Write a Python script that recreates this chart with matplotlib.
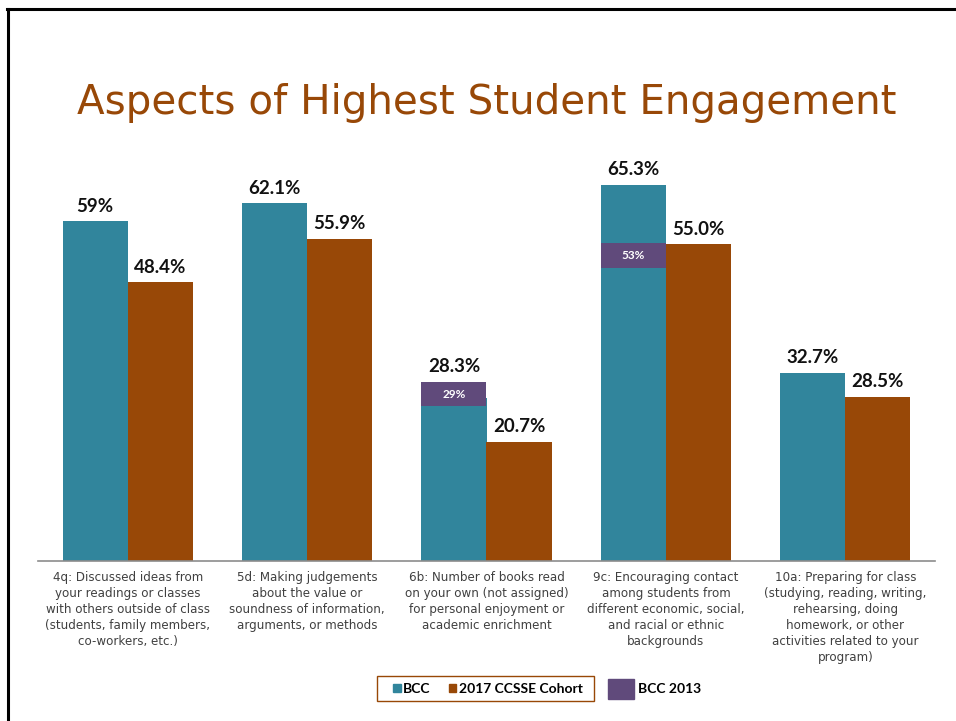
import matplotlib.pyplot as plt
from matplotlib.patches import Patch, Rectangle
from matplotlib.lines import Line2D
import numpy as np

# survey items (x axis labels)
categories = [
    "4q: Discussed ideas from\nyour readings or classes\nwith others outside of class\n(students, family members,\nco-workers, etc.)",
    "5d: Making judgements\nabout the value or\nsoundness of information,\narguments, or methods",
    "6b: Number of books read\non your own (not assigned)\nfor personal enjoyment or\nacademic enrichment",
    "9c: Encouraging contact\namong students from\ndifferent economic, social,\nand racial or ethnic\nbackgrounds",
    "10a: Preparing for class\n(studying, reading, writing,\nrehearsing, doing\nhomework, or other\nactivities related to your\nprogram)",
]
bcc = [59, 62.1, 28.3, 65.3, 32.7]
bcc_labels = ["59%", "62.1%", "28.3%", "65.3%", "32.7%"]
cohort = [48.4, 55.9, 20.7, 55.0, 28.5]
cohort_labels = ["48.4%", "55.9%", "20.7%", "55.0%", "28.5%"]
bcc2013 = [None, None, 29, 53, None]
bcc2013_labels = [None, None, "29%", "53%", None]

teal = '#31859C'
brown = '#984807'
purple = '#604A7B'

W, H = 956, 721
fig = plt.figure(figsize=(W/100, H/100), dpi=100)

def fx(px):
    return px / W

def fy(py):
    return 1 - py / H

# slide border (left and top edges)
fig.add_artist(Line2D([fx(7.5), fx(7.5)], [fy(8.5), fy(721)], color='black', lw=2.2))
fig.add_artist(Line2D([fx(6.5), fx(956)], [fy(8.5), fy(8.5)], color='black', lw=2.2))

fig.text(fx(486.5), fy(114), "Aspects of Highest Student Engagement", ha='center', va='baseline',
         fontsize=29.1, color=brown, family='DejaVu Sans')

ax = fig.add_axes([fx(38), fy(561), fx(935) - fx(38), (561 - 158) / H])
x = np.arange(len(categories))
w = 0.363
band = 4.3

ax.bar(x - w/2, bcc, w, color=teal, edgecolor='none')
ax.bar(x + w/2, cohort, w, color=brown, edgecolor='none')

# 2013 values shown as bands across the BCC bars
for xi, v, lab in zip(x, bcc2013, bcc2013_labels):
    if v is None:
        continue
    ax.bar(xi - w/2, band, w, bottom=v - band/2, color=purple, edgecolor='none')
    ax.text(xi - w/2, v, lab, ha='center', va='center', color='white',
            fontsize=8.5, family='Lato', fontweight='bold')

for xi, v, old, lab in zip(x, bcc, bcc2013, bcc_labels):
    top = v if old is None else max(v, old + band/2)
    ax.annotate(lab, (xi - w/2, top), xytext=(0, 7), textcoords='offset points',
                ha='center', va='baseline', fontsize=13.5, fontweight='bold',
                family='Lato', color='#111111')
for xi, v, lab in zip(x, cohort, cohort_labels):
    ax.annotate(lab, (xi + w/2, v), xytext=(0, 7), textcoords='offset points',
                ha='center', va='baseline', fontsize=13.5, fontweight='bold',
                family='Lato', color='#111111')

ax.set_xlim(-0.5, len(categories) - 0.5)
ax.set_ylim(0, 70)
ax.set_yticks([])
ax.set_xticks(x)
ax.set_xticklabels(categories, fontsize=8.6, color='#404040', linespacing=1.3,
                   family='DejaVu Sans')
ax.tick_params(axis='x', length=0, pad=7)
for s in ['top', 'right', 'left']:
    ax.spines[s].set_visible(False)
ax.spines['bottom'].set_color('#8c8c8c')
ax.spines['bottom'].set_linewidth(1.2)
ax.patch.set_alpha(0)

leg_font = {'family': 'Lato', 'weight': 'bold', 'size': 10}
fig.add_artist(Rectangle((fx(377), fy(701)), fx(594) - fx(377), (701 - 676) / H,
                         transform=fig.transFigure, fill=False, edgecolor=brown, lw=1.0))
fig.legend(handles=[Patch(color=teal, label='BCC'),
                    Patch(color=brown, label='2017 CCSSE Cohort')],
           loc='center', bbox_to_anchor=(fx(488), fy(689)), ncol=2,
           prop=leg_font, frameon=False,
           handlelength=0.55, handleheight=0.55, handletextpad=0.2,
           columnspacing=1.3, borderpad=0, borderaxespad=0)
fig.legend(handles=[Patch(color=purple, label='BCC 2013')],
           loc='center left', bbox_to_anchor=(fx(602), fy(689)), prop=leg_font,
           frameon=False, handlelength=1.9, handleheight=1.8, handletextpad=0.3,
           borderaxespad=0)

fig.savefig('out.png', dpi=100)
